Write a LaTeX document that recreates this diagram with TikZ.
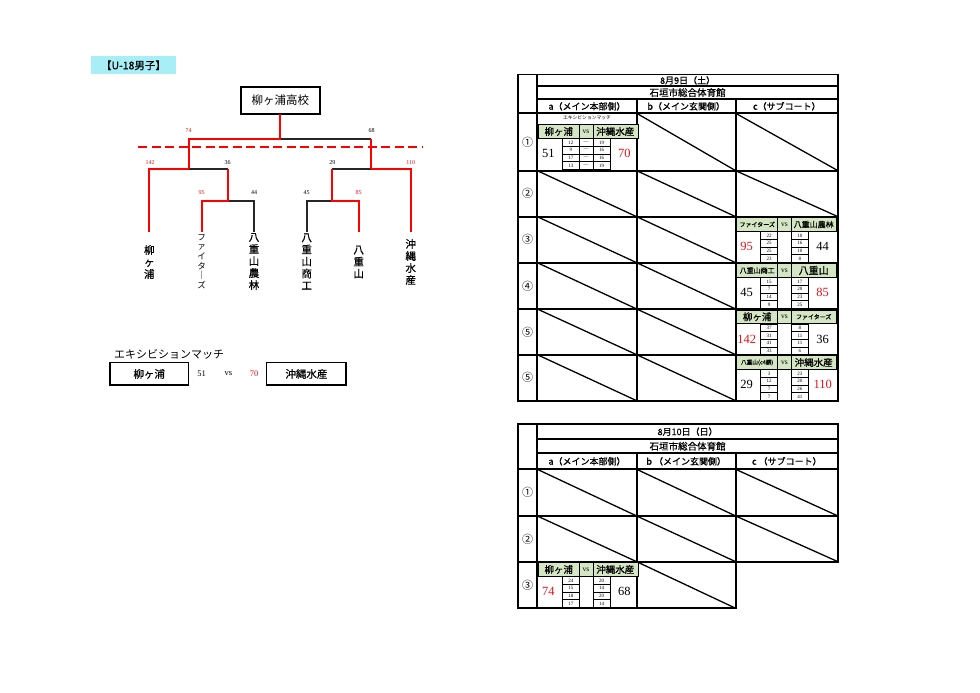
\documentclass[tikz,border=0pt]{standalone}
\usepackage{fontspec}
\setmainfont{Liberation Serif}
\newfontfamily\jp{Noto Sans CJK JP}
\newfontfamily\jpb[FakeBold=0.7]{Noto Sans CJK JP}
\newcommand\fs[1]{\fontsize{#1}{#1}\selectfont}
\definecolor{gcol}{HTML}{D4E6C3}
\definecolor{cyanbg}{HTML}{A8EEF6}
\definecolor{rd}{HTML}{FF0000}
\definecolor{rnum}{HTML}{E8141A}

\newcommand\matchcell[8]{%
\begin{scope}[shift={(#2)}]
  \draw[thinln, fill=gcol] (1,1) rectangle (42,14.3);
  \draw[thinln, fill=gcol] (42,1) rectangle (55.5,14.3);
  \draw[thinln, fill=gcol] (55.5,1) rectangle (100.5,14.3);
  \node[nm] (#1L) at (21.5,7.8) {#3};
  \node[vsf] (#1V) at (48.75,7.8) {vs};
  \node[nm] (#1R) at (78,7.8) {#4};
  \draw[thinln] (42,14.3) -- (42,46) (55.5,14.3) -- (55.5,46);
  \node[scf] (#1LS) at (11,30) {#5};
  \node[scf] (#1RS) at (87,30) {#6};
  \foreach \s [count=\i] in {#7} {
    \draw[thinln] (25,{14.8+(\i-1)*7.75}) rectangle (42,{14.8+\i*7.75});
    \node[smf] (#1l\i) at (33.5,{14.8+(\i-0.5)*7.75}) {\s};
  }
  \foreach \s [count=\i] in {#8} {
    \draw[thinln] (55.5,{14.8+(\i-1)*7.75}) rectangle (73,{14.8+\i*7.75});
    \node[smf] (#1r\i) at (64.25,{14.8+(\i-0.5)*7.75}) {\s};
  }
\end{scope}}

\begin{document}
\begin{tikzpicture}[x=1pt,y=-1pt,
  every node/.style={inner sep=0pt, outer sep=0pt},
  thinln/.style={line width=0.6pt, draw=black},
  tbl/.style={line width=1.8pt, line cap=rect},
  diag/.style={line width=1.3pt},
  rl/.style={line width=2.3pt, draw=rd, line join=miter},
  bl/.style={line width=1.8pt, draw=black!85},
  lbl/.style={font=\fs{6}},
  nm/.style={font=\jpb\fs{9.5}},
  vsf/.style={font=\fs{7.5}},
  scf/.style={font=\fs{12.5}},
  smf/.style={font=\fs{5}},
  hdr/.style={font=\jpb\fs{9}},
  circ/.style={font=\jp\fs{11}},
  vname/.style={font=\jpb\fontsize{10.5}{12}\selectfont, align=center},
]
\useasboundingbox (0,0) rectangle (980,693);
\fill[white] (0,0) rectangle (980,693);

% ---------- title label ----------
\fill[cyanbg] (91,56) rectangle (176,74);
\node[font=\jpb\fs{10.5}] (title) at (133.5,65.3) {【U-18男子】};

% ---------- bracket ----------
\node[draw, line width=1.8pt, minimum width=78.6pt, minimum height=27.3pt, font=\jp\fs{11.5}] (champ) at (280.3,100.4) {柳ヶ浦高校};

\coordinate (fmid) at (280.3,139.3);
\coordinate (f74) at (188.7,139.3);
\coordinate (f68) at (371,139.3);
\coordinate (s142) at (149.3,169.3);
\coordinate (s36) at (227.7,169.3);
\coordinate (s29) at (332.3,169.3);
\coordinate (s110) at (410.7,169.3);
\coordinate (t95) at (201.7,200.7);
\coordinate (t44) at (254,200.7);
\coordinate (t45) at (306.7,200.7);
\coordinate (t85) at (358.7,200.7);
\coordinate (b1) at (149.3,231.7);
\coordinate (b2) at (201.7,231.7);
\coordinate (b3) at (254,231.7);
\coordinate (b4) at (306.7,231.7);
\coordinate (b5) at (358.7,231.7);
\coordinate (b6) at (410.7,231.7);

% black (losing) branches
\draw[bl] (fmid) -- (f68);
\draw[bl] (f74 |- s142) -- (s36);
\draw[bl] (s29) -- (f68 |- s29);
\draw[bl] (s36 |- t95) -- (t44) -- (b3);
\draw[bl] (b4) -- (t45) -- (s29 |- t85);
% red (winning) branches
\draw[rl] (champ.south) -- (fmid) -- (f74) -- (f74 |- s142);
\draw[rl] (f68) -- (f68 |- s29);
\draw[rl] (f74 |- s142) -- (s142) -- (b1);
\draw[rl] (f68 |- s29) -- (s110) -- (b6);
\draw[rl] (s36) -- (s36 |- t95) -- (t95) -- (b2);
\draw[rl] (s29) -- (s29 |- t85) -- (t85) -- (b5);
% dashed line
\coordinate (dl) at (138,147);
\coordinate (dr) at (423,147);
\draw[rd, line width=2pt, dash pattern=on 9pt off 4.5pt] (dl) -- (dr);

% score labels
\node[lbl, text=rnum] (l74) at (188.7,131) {74};
\node[lbl] (l68) at (371.7,131) {68};
\node[lbl, text=rnum] (l142) at (150,162.7) {142};
\node[lbl] (l36) at (227.7,162.7) {36};
\node[lbl] (l29) at (332.3,162.7) {29};
\node[lbl, text=rnum] (l110) at (410.7,162.7) {110};
\node[lbl, text=rnum] (l95) at (201.7,192.7) {95};
\node[lbl] (l44) at (254,192.7) {44};
\node[lbl] (l45) at (306.7,192.7) {45};
\node[lbl, text=rnum] (l85) at (358.7,192.7) {85};

% team names (vertical)
\node[vname] (n1) at (149.3,262) {柳\\ヶ\\浦};
\node[vname, font=\jp\fontsize{8.5}{9.6}\selectfont] (n2) at (201.7,261.5) {フ\\ァ\\イ\\タ\\｜\\ズ};
\node[vname] (n3) at (254,261.5) {八\\重\\山\\農\\林};
\node[vname] (n4) at (306.7,261.5) {八\\重\\山\\商\\工};
\node[vname] (n5) at (358.7,262) {八\\重\\山};
\node[vname] (n6) at (410.7,262) {沖\\縄\\水\\産};

% exhibition
\node[anchor=west, font=\jp\fs{11}] (exh) at (114,354) {エキシビションマッチ};
\node[draw, line width=1.3pt, minimum width=78.3pt, minimum height=22.3pt, font=\jpb\fs{10.5}] (exA) at (149.2,373.9) {柳ヶ浦};
\node[font=\fs{8.5}] (ex51) at (201.7,374) {51};
\node[font=\fs{8.5}] (exvs) at (228.3,374) {vs};
\node[font=\fs{8.5}, text=rnum] (ex70) at (254,374) {70};
\node[draw, line width=1.3pt, minimum width=79.3pt, minimum height=22.3pt, font=\jpb\fs{10.5}] (exB) at (306.4,373.9) {沖縄水産};

% ---------- table 1 ----------
\draw[tbl] (518,74.5) rectangle (838,400.7);
\draw[tbl] (537.3,74.5) -- (537.3,400.7);
\draw[tbl] (537.3,86) -- (838,86);
\draw[tbl] (537.3,99) -- (838,99);
\draw[tbl] (518,113.3) -- (838,113.3);
\foreach \yy in {170.7,216.7,262.7,309,354.7} \draw[tbl] (518,\yy) -- (838,\yy);
\draw[tbl] (636.7,99) -- (636.7,400.7);
\draw[tbl] (735.7,99) -- (735.7,400.7);

\node[hdr] (d1) at (687.6,80.4) {8月9日（土）};
\node[hdr, font=\jpb\fs{9.5}] (v1) at (687.6,92.6) {石垣市総合体育館};
\node[hdr] (a1) at (587,106.3) {a（メイン本部側）};
\node[hdr] (b1h) at (686.2,106.3) {b（メイン玄関側）};
\node[hdr] (c1h) at (786.8,106.3) {c（サブコート）};

\node[circ] (r11) at (527.6,142) {①};
\node[circ] (r12) at (527.6,193.7) {②};
\node[circ] (r13) at (527.6,239.7) {③};
\node[circ] (r14) at (527.6,285.9) {④};
\node[circ] (r15) at (527.6,331.9) {⑤};
\node[circ] (r16) at (527.6,377.7) {⑤};

% diagonals table 1
\foreach \xa/\ya/\xb/\yb in {636.7/113.3/735.7/170.7, 735.7/113.3/838/170.7,
  537.3/170.7/636.7/216.7, 636.7/170.7/735.7/216.7, 735.7/170.7/838/216.7,
  537.3/216.7/636.7/262.7, 636.7/216.7/735.7/262.7,
  537.3/262.7/636.7/309, 636.7/262.7/735.7/309,
  537.3/309/636.7/354.7, 636.7/309/735.7/354.7,
  537.3/354.7/636.7/400.7, 636.7/354.7/735.7/400.7}
  \draw[diag] (\xa,\ya) -- (\xb,\yb);

% exhibition match
\node[font=\jp\fs{4.8}] (exsmall) at (587,118) {エキシビションマッチ};
\matchcell{mA}{537.3,123.7}{柳ヶ浦}{沖縄水産}{51}{\textcolor{rnum}{70}}{12,9,17,13}{19,16,16,19}
\begin{scope}[shift={(537.3,123.7)}]
\foreach \i in {1,2,3,4} {
  \draw[thinln] (42,{14.8+(\i-1)*7.75}) rectangle (55.5,{14.8+\i*7.75});
  \node[smf] (mAd\i) at (48.75,{14.8+(\i-0.5)*7.75}) {—};
}
\end{scope}

\matchcell{mB}{735.7,216.7}{\fs{6}ファイターズ}{\fs{8}八重山農林}{\textcolor{rnum}{95}}{44}{22,25,25,23}{10,16,10,8}
\matchcell{mC}{735.7,262.7}{\fs{7}八重山商工}{\fs{10}八重山}{45}{\textcolor{rnum}{85}}{15,7,14,9}{17,20,23,25}
\matchcell{mD}{735.7,309}{柳ヶ浦}{\fs{6}ファイターズ}{\textcolor{rnum}{142}}{36}{37,31,41,33}{8,11,11,6}
\matchcell{mE}{735.7,354.7}{\fs{5.6}八重山(c4勝)}{沖縄水産}{29}{\textcolor{rnum}{110}}{3,12,7,7}{23,20,26,41}

% ---------- table 2 ----------
\draw[tbl] (518,424.3) -- (838,424.3) -- (838,561.7) -- (735.7,561.7) -- (735.7,608.3) -- (518,608.3) -- cycle;
\draw[tbl] (537.3,424.3) -- (537.3,608.3);
\draw[tbl] (537.3,439) -- (838,439);
\draw[tbl] (537.3,453.3) -- (838,453.3);
\draw[tbl] (518,469.3) -- (838,469.3);
\draw[tbl] (518,516) -- (838,516);
\draw[tbl] (518,561.7) -- (838,561.7);
\draw[tbl] (636.7,453.3) -- (636.7,608.3);
\draw[tbl] (735.7,453.3) -- (735.7,561.7);

\node[hdr] (d2) at (687.6,431.7) {8月10日（日）};
\node[hdr, font=\jpb\fs{9.5}] (v2) at (687.6,446.2) {石垣市総合体育館};
\node[hdr] (a2) at (587,461.3) {a（メイン本部側）};
\node[hdr] (b2h) at (686.2,461.3) {b （メイン玄関側）};
\node[hdr] (c2h) at (786.8,461.3) {c （サブコート）};

\node[circ] (r21) at (527.6,492.7) {①};
\node[circ] (r22) at (527.6,538.9) {②};
\node[circ] (r23) at (527.6,585) {③};

\foreach \xa/\ya/\xb/\yb in {537.3/469.3/636.7/516, 636.7/469.3/735.7/516, 735.7/469.3/838/516,
  537.3/516/636.7/561.7, 636.7/516/735.7/561.7, 735.7/516/838/561.7,
  636.7/561.7/735.7/608.3}
  \draw[diag] (\xa,\ya) -- (\xb,\yb);

\matchcell{mF}{537.3,561.7}{柳ヶ浦}{沖縄水産}{\textcolor{rnum}{74}}{68}{24,15,18,17}{20,14,20,14}

\end{tikzpicture}
\end{document}
